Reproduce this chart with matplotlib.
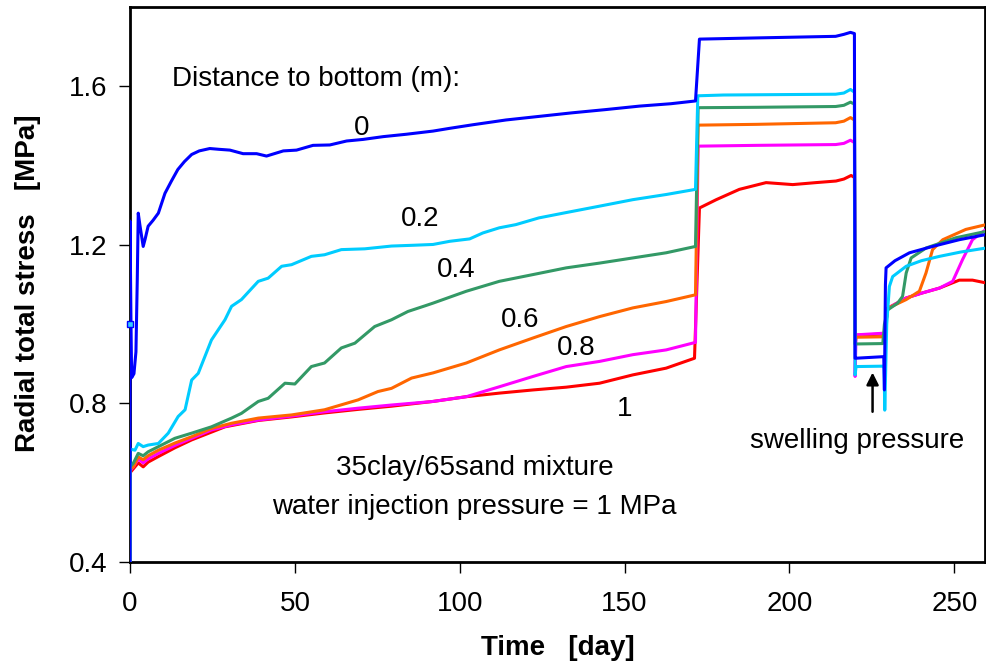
import matplotlib
matplotlib.use("Agg")
import matplotlib.pyplot as plt

plt.rcParams['font.family'] = ['Liberation Sans', 'DejaVu Sans']

# ---- data (day, MPa) ----
days_0 = [0, 0, 0.3, 0.5, 1.2, 1.8, 2.2, 2.5, 3.0, 4.0, 4.6, 5.5, 7.0, 8.6, 10.6, 12.5, 14.5, 16.5,
          18.7, 21, 24.2, 27, 30.3, 34.3, 38.4, 41.4, 46.5, 50.5, 55.5, 60.6, 65.7, 70.7, 76.8, 83.8,
          91.9, 97, 104, 114, 124, 134, 144, 154.5, 164, 171.5, 172.7, 190, 214, 216.5, 218.5, 219.7,
          219.9, 220.1, 228.6, 228.8, 229.1, 229.3, 232, 236.4, 243.4, 251.5, 259.6]
vals_0 = [0.40, 1.26, 1.00, 0.865, 0.875, 0.93, 1.11, 1.28, 1.25, 1.196, 1.215, 1.247, 1.262, 1.28,
          1.33, 1.36, 1.39, 1.41, 1.428, 1.437, 1.443, 1.441, 1.439, 1.43, 1.43, 1.424, 1.437, 1.439,
          1.451, 1.452, 1.462, 1.466, 1.473, 1.479, 1.487, 1.494, 1.503, 1.515, 1.524, 1.533, 1.541,
          1.550, 1.556, 1.563, 1.719, 1.722, 1.726, 1.731, 1.736, 1.733, 0.914, 0.914, 0.918, 0.834,
          1.10, 1.142, 1.160, 1.180, 1.196, 1.213, 1.226]

days_02 = [0, 0, 1.5, 2.5, 4, 5.5, 8.6, 11.6, 14.6, 16.7, 18.7, 20.7, 24.7, 28.8, 30.8, 33.8, 38.9,
           41.9, 46, 49, 55, 59, 64.1, 71.2, 79.3, 86, 91.9, 97, 103, 107, 112, 117, 124, 132, 142,
           152.5, 162.6, 171.5, 172.2, 180, 214, 216.5, 218.5, 219.7, 219.9, 220.2, 228.3, 228.7,
           228.9, 229.5, 230.3, 231.3, 235.4, 240, 245.5, 252, 259.6]
vals_02 = [0.40, 0.685, 0.682, 0.699, 0.691, 0.695, 0.699, 0.725, 0.767, 0.784, 0.859, 0.876, 0.960,
           1.011, 1.045, 1.062, 1.108, 1.116, 1.146, 1.150, 1.171, 1.175, 1.188, 1.190, 1.197, 1.199,
           1.201, 1.209, 1.215, 1.230, 1.243, 1.251, 1.268, 1.281, 1.297, 1.314, 1.327, 1.340, 1.576,
           1.578, 1.580, 1.583, 1.592, 1.585, 0.872, 0.893, 0.894, 0.89, 0.783, 1.0, 1.095, 1.120,
           1.146, 1.160, 1.171, 1.182, 1.192]

days_04 = [0, 0, 1, 2.5, 4, 5.5, 8.6, 13.6, 18.7, 24.7, 30.8, 33.8, 38.9, 41.9, 47, 50, 55, 59, 64.1,
           68.2, 74.2, 79.3, 84.3, 89.4, 91.9, 102, 112, 122.2, 132.3, 142.4, 152.5, 162.6, 171.5,
           172.3, 190, 214, 216.5, 218.5, 219.7, 219.9, 220.2, 228.3, 228.8, 229.8, 232.8, 234.3,
           235.4, 236.9, 241.4, 250.5, 259.6]
vals_04 = [0.40, 0.64, 0.649, 0.674, 0.668, 0.678, 0.691, 0.712, 0.725, 0.741, 0.763, 0.775, 0.805,
           0.813, 0.851, 0.849, 0.893, 0.902, 0.940, 0.952, 0.994, 1.011, 1.032, 1.046, 1.053, 1.083,
           1.108, 1.125, 1.142, 1.154, 1.167, 1.180, 1.196, 1.546, 1.547, 1.549, 1.552, 1.560, 1.555,
           0.95, 0.950, 0.951, 1.0, 1.036, 1.053, 1.070, 1.129, 1.167, 1.192, 1.218, 1.234]

days_06 = [0, 0, 1, 2.5, 4, 5.5, 8.6, 13.6, 18.7, 24.7, 30.8, 38.9, 49, 59, 69.2, 75.2, 79.3, 85.4,
           91.9, 102, 112, 122.2, 132.3, 142.4, 152.5, 162.6, 171.5, 172.3, 190, 214, 216.5, 218.5,
           219.7, 219.9, 220.2, 228.3, 228.8, 229.8, 235.4, 239.4, 241.4, 243.4, 246.5, 253.5, 259.6]
vals_06 = [0.40, 0.635, 0.64, 0.665, 0.658, 0.668, 0.682, 0.700, 0.716, 0.737, 0.750, 0.763, 0.771,
           0.784, 0.809, 0.830, 0.838, 0.864, 0.877, 0.902, 0.935, 0.965, 0.994, 1.019, 1.041, 1.057,
           1.074, 1.502, 1.504, 1.508, 1.512, 1.521, 1.515, 0.95, 0.967, 0.968, 0.97, 1.04, 1.062,
           1.083, 1.129, 1.188, 1.213, 1.239, 1.251]

days_08 = [0, 0, 1, 2.5, 4, 5.5, 8.6, 13.6, 18.7, 24.7, 30.8, 38.9, 49, 59, 69.2, 79.3, 91.9, 102,
           112, 122.2, 132.3, 142.4, 152.5, 162.6, 171.5, 172.3, 190, 214, 216.5, 218.5, 219.7,
           219.9, 220.2, 228.3, 228.8, 229.8, 235.4, 240, 245.5, 249.5, 252.5, 255.5, 259.6]
vals_08 = [0.40, 0.63, 0.64, 0.66, 0.65, 0.66, 0.674, 0.694, 0.712, 0.733, 0.746, 0.758, 0.768,
           0.779, 0.788, 0.796, 0.805, 0.817, 0.842, 0.868, 0.893, 0.906, 0.923, 0.935, 0.954, 1.449,
           1.451, 1.453, 1.456, 1.464, 1.458, 0.868, 0.973, 0.977, 0.975, 1.04, 1.066, 1.078, 1.091,
           1.108, 1.163, 1.213, 1.239]

days_1 = [0, 0, 1, 2.5, 4, 5.5, 8.6, 13.6, 18.7, 28.8, 38.9, 49, 59, 69.2, 79.3, 91.9, 102, 112,
          122.2, 132.3, 142.4, 152.5, 162.6, 171.2, 172.7, 177.8, 184.8, 192.9, 201, 208, 214.1,
          216.5, 218.7, 219.7, 219.9, 220.2, 228.3, 228.8, 229.8, 235.4, 240, 245.5, 251.5, 255.5,
          259.6]
vals_1 = [0.40, 0.625, 0.635, 0.65, 0.64, 0.652, 0.666, 0.688, 0.708, 0.741, 0.757, 0.766, 0.776,
          0.785, 0.793, 0.805, 0.817, 0.826, 0.834, 0.841, 0.851, 0.872, 0.889, 0.914, 1.293, 1.314,
          1.340, 1.357, 1.352, 1.357, 1.361, 1.366, 1.375, 1.37, 0.97, 0.972, 0.975, 0.973, 1.04,
          1.066, 1.078, 1.091, 1.111, 1.111, 1.104]

marker_day = [0]
marker_val = [1.0]

series = [
    ("1", days_1, vals_1, "#FF0000"),
    ("0.8", days_08, vals_08, "#FF00FF"),
    ("0.6", days_06, vals_06, "#FF6600"),
    ("0.4", days_04, vals_04, "#339966"),
    ("0.2", days_02, vals_02, "#00CCFF"),
    ("0", days_0, vals_0, "#0000FF"),
]

# curve labels: (text, day, MPa)
curve_labels = [("0", 70.3, 1.496), ("0.2", 87.9, 1.264), ("0.4", 98.8, 1.137),
                ("0.6", 118.4, 1.011), ("0.8", 135.4, 0.939), ("1", 150.0, 0.785)]

fig = plt.figure(figsize=(9.87, 6.70), dpi=100)
ax = fig.add_axes([130/987, 1 - 562/670, (985 - 130)/987, (562 - 7)/670])

for name, d, v, c in series:
    ax.plot(d, v, color=c, lw=2.2, solid_joinstyle='round', zorder=3)

ax.plot(marker_day, marker_val, 's', ms=5, mfc='#33CCFF', mec='#0000FF', mew=1, zorder=4,
        clip_on=False)

ax.set_xlim(0, 259.3)
ax.set_ylim(0.4, 1.80)
ax.set_xticks([0, 50, 100, 150, 200, 250])
ax.set_yticks([0.4, 0.8, 1.2, 1.6])
ax.set_yticklabels(["0.4", "0.8", "1.2", "1.6"])
ax.tick_params(axis='both', direction='out', length=8, width=1, labelsize=20, colors='black')
ax.tick_params(axis='x', pad=13)
ax.tick_params(axis='y', pad=8)
for s in ax.spines.values():
    s.set_linewidth(2)
    s.set_color('black')

for t, x, y in curve_labels:
    ax.text(x, y, t, fontsize=20, ha='center', va='center')

ax.text(12.7, 1.618, "Distance to bottom (m):", fontsize=20, ha='left', va='center')
ax.text(104.5, 0.637, "35clay/65sand mixture", fontsize=20, ha='center', va='center')
ax.text(104.5, 0.538, "water injection pressure = 1 MPa", fontsize=20, ha='center', va='center')
ax.text(220.6, 0.705, "swelling pressure", fontsize=20, ha='center', va='center')
ax.annotate("", xy=(225.2, 0.885), xytext=(225.2, 0.772),
            arrowprops=dict(arrowstyle='-|>', color='black', lw=1.8, mutation_scale=18))

fig.text(28/987, 1 - 283/670, "Radial total stress   [MPa]", rotation=90, fontsize=20,
         fontweight='bold', ha='center', va='center')
fig.text(558/987, 1 - 648/670, "Time   [day]", fontsize=20, fontweight='bold',
         ha='center', va='center')

fig.savefig("out.png", dpi=100)
